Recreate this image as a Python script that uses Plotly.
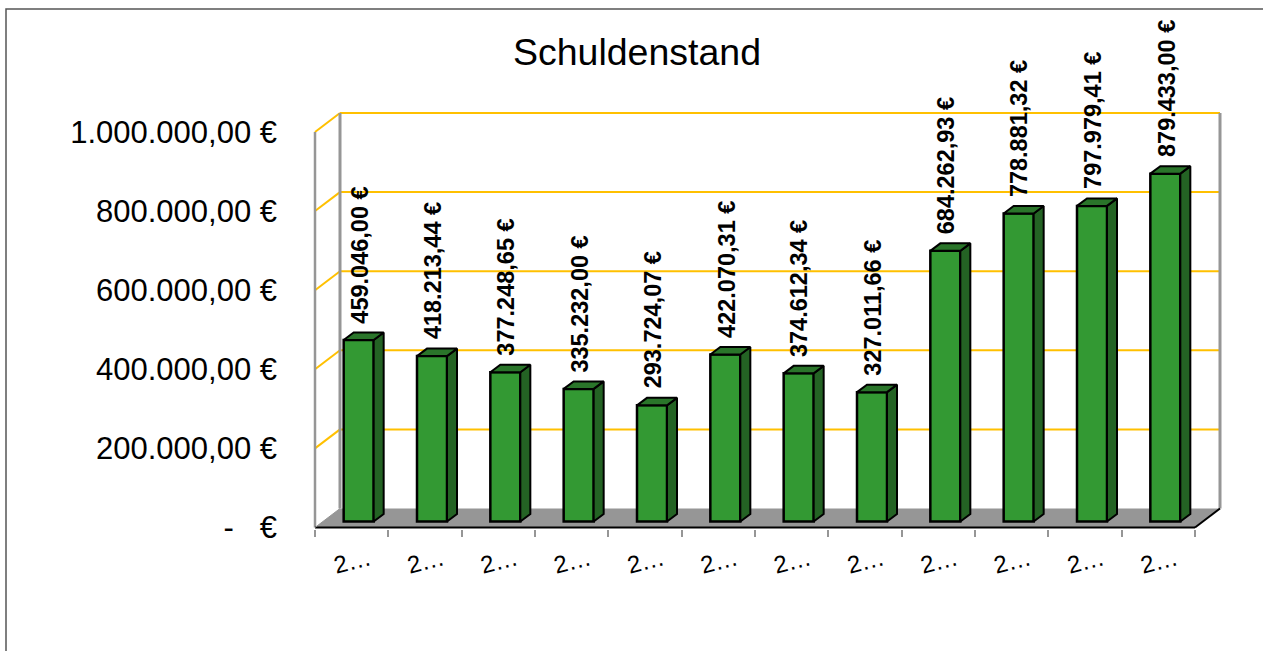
import plotly.graph_objects as go

# values
categories = ["2…"] * 12
schuldenstand = [459046.00, 418213.44, 377248.65, 335232.00, 293724.07, 422070.31,
                 374612.34, 327011.66, 684262.93, 778881.32, 797979.41, 879433.00]
value_labels = ["459.046,00 €", "418.213,44 €", "377.248,65 €", "335.232,00 €",
                "293.724,07 €", "422.070,31 €", "374.612,34 €", "327.011,66 €",
                "684.262,93 €", "778.881,32 €", "797.979,41 €", "879.433,00 €"]
y_ticks = [0, 200000, 400000, 600000, 800000, 1000000]
y_tick_labels = ["-   €", "200.000,00 €", "400.000,00 €", "600.000,00 €",
                 "800.000,00 €", "1.000.000,00 €"]

FONT = "Liberation Sans"
WIDTH, HEIGHT = 1263, 651

# --- pixel scale of the fake 3D box ---
# x=0 sits at pixel 315 and y=0 at pixel 528; the plot area is a bit larger so
# that the box edges do not get clipped in half
ORIGIN_X, ORIGIN_Y = 315, 528
LEFT, BOTTOM, TOP = 310, 529.5, 100
RIGHT = 1226
CAT_PX = 880 / 12
VAL_PX = 396 / 1000000


def dx(px):
    return px / CAT_PX


def dy(px):
    return px / VAL_PX


n = len(categories)
wall_x, wall_y = dx(25), dy(19)
bar_w = dx(30)
bar_shift, bar_base = dx(7), dy(6)
depth_x, depth_y = dx(10), dy(7.5)

FRONT = "#339933"
SIDE = "#246324"
TOPFACE = "#2a752a"
GRID = "#FFC000"
WALL = "#969696"

fig = go.Figure()

centers = [i + 0.5 + bar_shift for i in range(n)]
fig.add_trace(go.Bar(
    x=centers, y=schuldenstand, base=[bar_base] * n, width=bar_w,
    marker=dict(color=FRONT, line=dict(color="black", width=2.5)),
    hoverinfo="skip", showlegend=False,
))

# side and top faces of each bar
for c, v in zip(centers, schuldenstand):
    x0, x1 = c - bar_w / 2, c + bar_w / 2
    y0, y1 = bar_base, bar_base + v
    fig.add_trace(go.Scatter(
        x=[x1, x1 + depth_x, x1 + depth_x, x1, x1], y=[y0, y0 + depth_y, y1 + depth_y, y1, y0],
        mode="lines", fill="toself", fillcolor=SIDE, line=dict(color="black", width=2),
        hoverinfo="skip", showlegend=False,
    ))
    fig.add_trace(go.Scatter(
        x=[x0, x0 + depth_x, x1 + depth_x, x1, x0], y=[y1, y1 + depth_y, y1 + depth_y, y1, y1],
        mode="lines", fill="toself", fillcolor=TOPFACE, line=dict(color="black", width=2),
        hoverinfo="skip", showlegend=False,
    ))

shapes = []


def line(x0, y0, x1, y1, color, width):
    shapes.append(dict(type="line", xref="x", yref="y", x0=x0, y0=y0, x1=x1, y1=y1,
                       line=dict(color=color, width=width), layer="below"))


# floor
shapes.append(dict(type="path", xref="x", yref="y", layer="below", fillcolor=WALL,
                   line=dict(width=0),
                   path=f"M 0 0 L {n} 0 L {n + wall_x} {wall_y} L {wall_x} {wall_y} Z"))
# grid lines, bent around the left wall
for t in y_ticks[1:]:
    line(0, t, wall_x, t + wall_y, GRID, 2)
    line(wall_x, t + wall_y, n + wall_x, t + wall_y, GRID, 2)
# walls
line(0, 0, 0, y_ticks[-1], WALL, 2.5)
line(wall_x, wall_y, wall_x, y_ticks[-1] + wall_y, WALL, 3)
line(n + wall_x, wall_y, n + wall_x, y_ticks[-1] + wall_y, WALL, 3)
# front edges of the floor
line(0, 0, n, 0, "black", 2)
line(n, 0, n + wall_x, wall_y, "black", 2)
line(0, 0, wall_x, wall_y, WALL, 1)
# outer chart frame, runs off the page on the right and at the bottom
shapes.append(dict(type="rect", xref="paper", yref="paper", layer="below",
                   x0=(6 - LEFT) / (RIGHT - LEFT), x1=(WIDTH + 20 - LEFT) / (RIGHT - LEFT),
                   y0=(BOTTOM - HEIGHT - 20) / (BOTTOM - TOP), y1=(BOTTOM - 9) / (BOTTOM - TOP),
                   line=dict(color="#555555", width=1.5)))

annotations = [
    dict(x=c + depth_x / 2 - dx(4), y=bar_base + v + depth_y + dy(7), text=lab, textangle=-90,
         xref="x", yref="y", showarrow=False, xanchor="center", yanchor="bottom",
         font=dict(family=FONT, size=23.5, color="black", weight="bold"))
    for c, v, lab in zip(centers, schuldenstand, value_labels)
]

fig.update_layout(
    width=WIDTH, height=HEIGHT,
    autosize=False,
    paper_bgcolor="white",
    plot_bgcolor="rgba(0,0,0,0)",
    margin=dict(l=LEFT, r=WIDTH - RIGHT, t=TOP, b=HEIGHT - BOTTOM, pad=0),
    title=dict(text="Schuldenstand", x=637 / WIDTH, xanchor="center", xref="container",
               y=1 - 52 / HEIGHT, yanchor="middle", yref="container",
               font=dict(family=FONT, size=37.5, color="black")),
    font=dict(family=FONT, color="black"),
    showlegend=False,
    shapes=shapes,
    annotations=annotations,
    xaxis=dict(
        range=[dx(LEFT - ORIGIN_X), dx(RIGHT - ORIGIN_X)], showgrid=False, zeroline=False,
        showline=False,
        tickmode="array", tickvals=[i + 0.5 + dx(18) for i in range(n)], ticktext=categories,
        ticks="", tickangle=-14, tickfont=dict(family=FONT, size=24),
        ticklabelstandoff=11,
        minor=dict(tickmode="array", tickvals=list(range(n + 1)), ticks="outside", ticklen=7,
                   tickcolor=WALL, tickwidth=2, showgrid=False),
    ),
    yaxis=dict(
        range=[dy(ORIGIN_Y - BOTTOM), dy(ORIGIN_Y - TOP)], showgrid=False, zeroline=False,
        showline=False,
        tickmode="array", tickvals=y_ticks, ticktext=y_tick_labels, ticks="",
        tickfont=dict(family=FONT, size=31), ticklabelstandoff=32,
    ),
)

fig.write_html("out.html", config=dict(displayModeBar=False),
               post_script="document.body.style.margin='0';")
